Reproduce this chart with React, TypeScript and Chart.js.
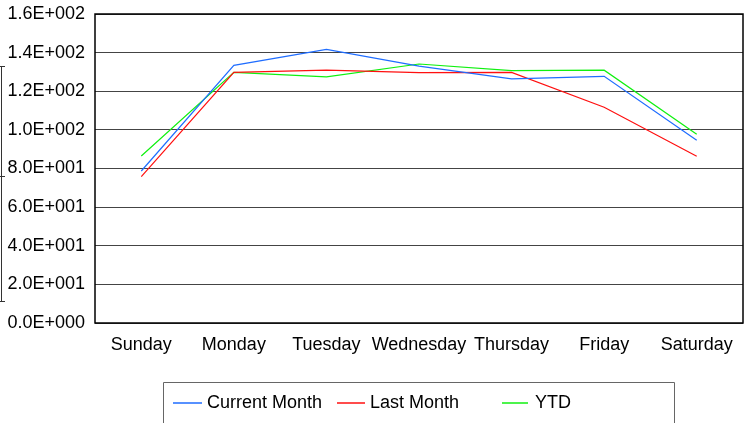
import React, { useEffect, useRef } from "react";
import { Chart, registerables } from "chart.js";

Chart.register(...registerables);

const categories = ["Sunday", "Monday", "Tuesday", "Wednesday", "Thursday", "Friday", "Saturday"];
const currentMonth = [78.7, 133.4, 141.7, 133.0, 126.4, 127.7, 94.6];
const lastMonth = [75.8, 129.8, 130.9, 129.6, 129.8, 111.7, 86.3];
const ytd = [86.5, 129.8, 127.4, 134.1, 130.7, 130.9, 97.7];
const yTicks = { min: 0, max: 160, step: 20 };

const FONT = "'Liberation Sans', Arial, sans-serif";

function sci(v: number): string {
  if (v === 0) return "0.0E+000";
  const [m, e] = v.toExponential(1).split("e");
  const exp = parseInt(e, 10);
  const sign = exp < 0 ? "-" : "+";
  return `${m}E${sign}${String(Math.abs(exp)).padStart(3, "0")}`;
}

const framePlugin = {
  id: "frame",
  afterDraw(chart: any) {
    const { ctx, chartArea } = chart;
    ctx.save();
    // plot border
    ctx.strokeStyle = "#000";
    ctx.lineWidth = 1.5;
    ctx.strokeRect(chartArea.left, chartArea.top, chartArea.right - chartArea.left, chartArea.bottom - chartArea.top);

    // left clipped bracket
    ctx.lineWidth = 1;
    ctx.strokeStyle = "#333";
    ctx.beginPath();
    ctx.moveTo(1.5, 66);
    ctx.lineTo(1.5, 302);
    ctx.moveTo(0, 66.5);
    ctx.lineTo(5, 66.5);
    ctx.moveTo(0, 176.5);
    ctx.lineTo(5, 176.5);
    ctx.moveTo(0, 301.5);
    ctx.lineTo(5, 301.5);
    ctx.stroke();

    // legend box
    ctx.strokeStyle = "#666";
    ctx.lineWidth = 1;
    ctx.beginPath();
    ctx.moveTo(163.5, 430);
    ctx.lineTo(163.5, 382.5);
    ctx.lineTo(674.5, 382.5);
    ctx.lineTo(674.5, 430);
    ctx.stroke();

    const items = [
      { sx: 173, ex: 202, tx: 207 },
      { sx: 337, ex: 365, tx: 370 },
      { sx: 502, ex: 528, tx: 535 },
    ];
    ctx.font = `18px ${FONT}`;
    ctx.textBaseline = "middle";
    ctx.textAlign = "left";
    chart.data.datasets.forEach((ds: any, i: number) => {
      const it = items[i];
      ctx.strokeStyle = ds.borderColor;
      ctx.lineWidth = 1.5;
      ctx.beginPath();
      ctx.moveTo(it.sx, 403);
      ctx.lineTo(it.ex, 403);
      ctx.stroke();
      ctx.fillStyle = "#000";
      ctx.fillText(ds.label, it.tx, 403);
    });
    ctx.restore();
  },
};

export default function App() {
  const ref = useRef<HTMLCanvasElement | null>(null);
  useEffect(() => {
    document.body.style.margin = "0";
    const canvas = ref.current!;
    const chart = new Chart(canvas, {
      type: "line",
      data: {
        labels: categories,
        datasets: [
          { label: "Current Month", data: currentMonth, borderColor: "#1f6dff", borderWidth: 1.2, pointRadius: 0, tension: 0, fill: false },
          { label: "Last Month", data: lastMonth, borderColor: "#ff1010", borderWidth: 1.2, pointRadius: 0, tension: 0, fill: false },
          { label: "YTD", data: ytd, borderColor: "#10f010", borderWidth: 1.2, pointRadius: 0, tension: 0, fill: false },
        ],
      },
      options: {
        responsive: false,
        animation: false,
        layout: { padding: { left: 0, right: 3, top: 14, bottom: 0 } },
        plugins: { legend: { display: false }, tooltip: { enabled: false } },
        scales: {
          x: {
            type: "category",
            offset: true,
            grid: { display: false, drawTicks: false },
            border: { display: false },
            ticks: { color: "#000", font: { family: FONT, size: 18 }, padding: 11, maxRotation: 0, autoSkip: false },
            afterFit: (s: any) => { s.height = 100; s.paddingLeft = 0; s.paddingRight = 0; },
          },
          y: {
            min: yTicks.min,
            max: yTicks.max,
            grid: { color: "#444", lineWidth: 1, drawTicks: false },
            border: { display: false },
            ticks: {
              stepSize: yTicks.step,
              color: "#000",
              font: { family: FONT, size: 18 },
              padding: 10,
              callback: (v: any) => sci(Number(v)),
            },
            afterFit: (s: any) => { s.width = 95; s.paddingTop = 0; s.paddingBottom = 0; },
          },
        },
      },
      plugins: [framePlugin],
    });
    return () => chart.destroy();
  }, []);
  return <canvas ref={ref} width={746} height={423} style={{ display: "block" }} />;
}
